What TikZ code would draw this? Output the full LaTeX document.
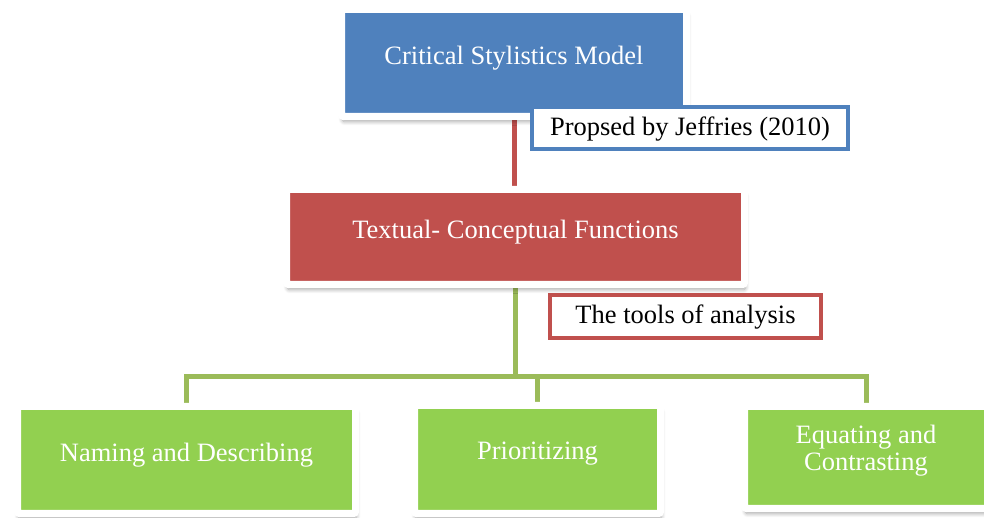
\documentclass[tikz,border=0pt]{standalone}
\usepackage{fontspec}
\setmainfont{Liberation Serif}
\usetikzlibrary{shadows.blur}
\definecolor{cblue}{HTML}{4F81BD}
\definecolor{cred}{HTML}{C0504D}
\definecolor{cgreen}{HTML}{92D050}
\definecolor{cgline}{HTML}{9BBB59}
\pgfdeclarelayer{background}
\pgfsetlayers{background,main}
\tikzset{
  box/.style={draw=white, line width=7pt, rectangle, inner sep=0pt, rounded corners=2pt,
    blur shadow={shadow xshift=1pt, shadow yshift=-5pt, shadow opacity=35, shadow blur radius=4pt, shadow blur steps=8}},
  lbl/.style={text=white, font=\fontsize{26.5}{27}\selectfont, align=center},
  callout/.style={fill=white, line width=4pt, rectangle, inner sep=0pt,
    font=\fontsize{26.5}{30}\selectfont, text=black, text height=21pt, text depth=6pt},
  rline/.style={draw=cred, line width=5pt},
  gline/.style={draw=cgline, line width=5pt}
}
\begin{document}
\begin{tikzpicture}[x=1pt,y=1pt]
\useasboundingbox (0,0) rectangle (984,518);
\clip (0,0) rectangle (984,518);
% top
\node[box, fill=cblue, minimum width=345, minimum height=107,
  label={[lbl, yshift=5pt]center:Critical Stylistics Model}] (blue) at (514,455) {};
% middle
\node[box, fill=cred, minimum width=458, minimum height=95,
  label={[lbl, yshift=5pt]center:Textual- Conceptual Functions}] (red) at (515.5,281) {};
% bottom
\node[box, fill=cgreen, minimum width=338, minimum height=107,
  label={[lbl, yshift=5pt]center:Naming and Describing}] (g1) at (186.5,58) {};
\node[box, fill=cgreen, minimum width=246, minimum height=108,
  label={[lbl, yshift=6pt]center:Prioritizing}] (g2) at (537.5,58.5) {};
\node[box, fill=cgreen, minimum width=243, minimum height=102,
  label={[lbl, yshift=7pt]center:Equating and\\Contrasting}] (g3) at (866,60.5) {};
% callouts
\node[callout, draw=cblue, minimum width=316, minimum height=42] (c1) at (690,390) {Propsed by Jeffries (2010)};
\node[callout, draw=cred, minimum width=271, minimum height=43] (c2) at (685.5,201.5) {The tools of analysis};
% connectors
\coordinate (bus) at (515.5,141);
\begin{pgfonlayer}{background}
\draw[rline] (blue.south) -- (blue.south |- red.north);
\draw[gline] (red.south) -- (bus);
\draw[gline] (bus) -| (g1.north);
\draw[gline] (bus) -| (g2.north);
\draw[gline] (bus) -| (g3.north);
\end{pgfonlayer}
\end{tikzpicture}
\end{document}
